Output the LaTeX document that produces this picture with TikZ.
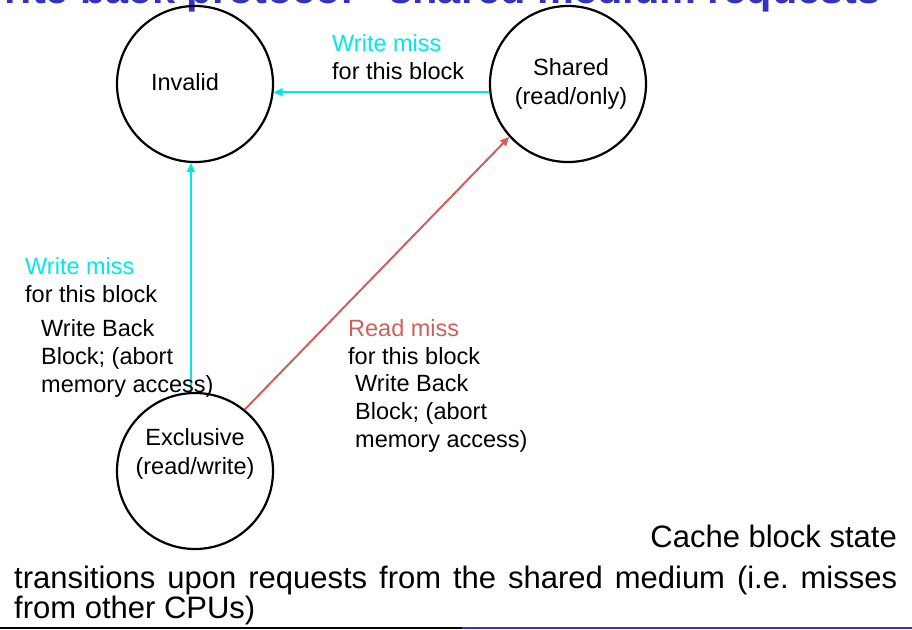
\documentclass[tikz,border=0pt]{standalone}
\usepackage{fontspec}
\setmainfont{Liberation Sans}
\usetikzlibrary{arrows.meta,positioning}
\definecolor{misscyan}{RGB}{0,232,232}
\definecolor{missred}{RGB}{206,96,90}
\definecolor{titleblue}{RGB}{51,51,190}
\frenchspacing
\begin{document}
\begin{tikzpicture}[x=1pt,y=1pt,
                    main node/.style={circle,draw,line width=2.2pt,minimum size=156pt,inner sep=0pt},
                    state text/.style={align=center,font=\fontsize{23.5}{28.5}\selectfont},
                    miss label/.style={anchor=north west,inner sep=0pt,align=left,font=\fontsize{23.5}{28}\selectfont},
                    big text/.style={inner sep=0pt,font=\fontsize{31}{31}\selectfont},
                    edge/.style={line width=2pt,-{Triangle[length=9pt,width=8pt]}}]

    \clip (0,0) rectangle (912,-629);

    % Title
    \node[anchor=base east,inner sep=0pt,text=titleblue,font=\fontsize{41.5}{45}\selectfont\bfseries]
        (title) at (881,-4) {Write back protocol - shared medium requests};

    % Define vertices
    \node[main node,label={[state text,xshift=-10pt,yshift=2pt]center:Invalid}] (I) at (195,-84) {};
    \node[main node,label={[state text,xshift=3pt,yshift=0pt]center:Shared\\(read/only)}] (S) at (568,-84) {};
    \node[main node,label={[state text,yshift=17pt]center:Exclusive\\(read/write)}] (E) at (195,-471) {};

    % Transitions
    \draw[edge,misscyan] (S.186) -- (I.-6);
    \draw[edge,misscyan] (E.93) -- (I.267);
    \draw[edge,missred] (E.51) -- (S.222);

    % Labels
    \node[miss label] (top miss) at (332,-34) {\textcolor{misscyan}{Write miss}\\for this block};
    \node[miss label] (left miss) at (25,-257) {\textcolor{misscyan}{Write miss}\\for this block};
    \node[miss label] (left wb) at (41,-319) {Write Back\\Block; (abort\\memory access)};
    \node[miss label] (red miss) at (348,-319) {\textcolor{missred}{Read miss}\\for this block};
    \node[miss label] (red wb) at (355,-374) {Write Back\\Block; (abort\\memory access)};

    % Caption
    \node[big text,anchor=base east] (cap1) at (897,-547) {Cache block state};
    \node[big text,anchor=base west] (cap2) at (14,-588)
        {\makebox[883pt][s]{transitions upon requests from the shared medium (i.e. misses}};
    \node[big text,anchor=base west] (cap3) at (14,-618) {from other CPUs)};

    % Bottom rule
    \draw[line width=2.4pt] (0,-627.8) -- (462,-627.8);
    \draw[line width=2.4pt,titleblue] (462,-627.8) -- (912,-627.8);

\end{tikzpicture}
\end{document}
